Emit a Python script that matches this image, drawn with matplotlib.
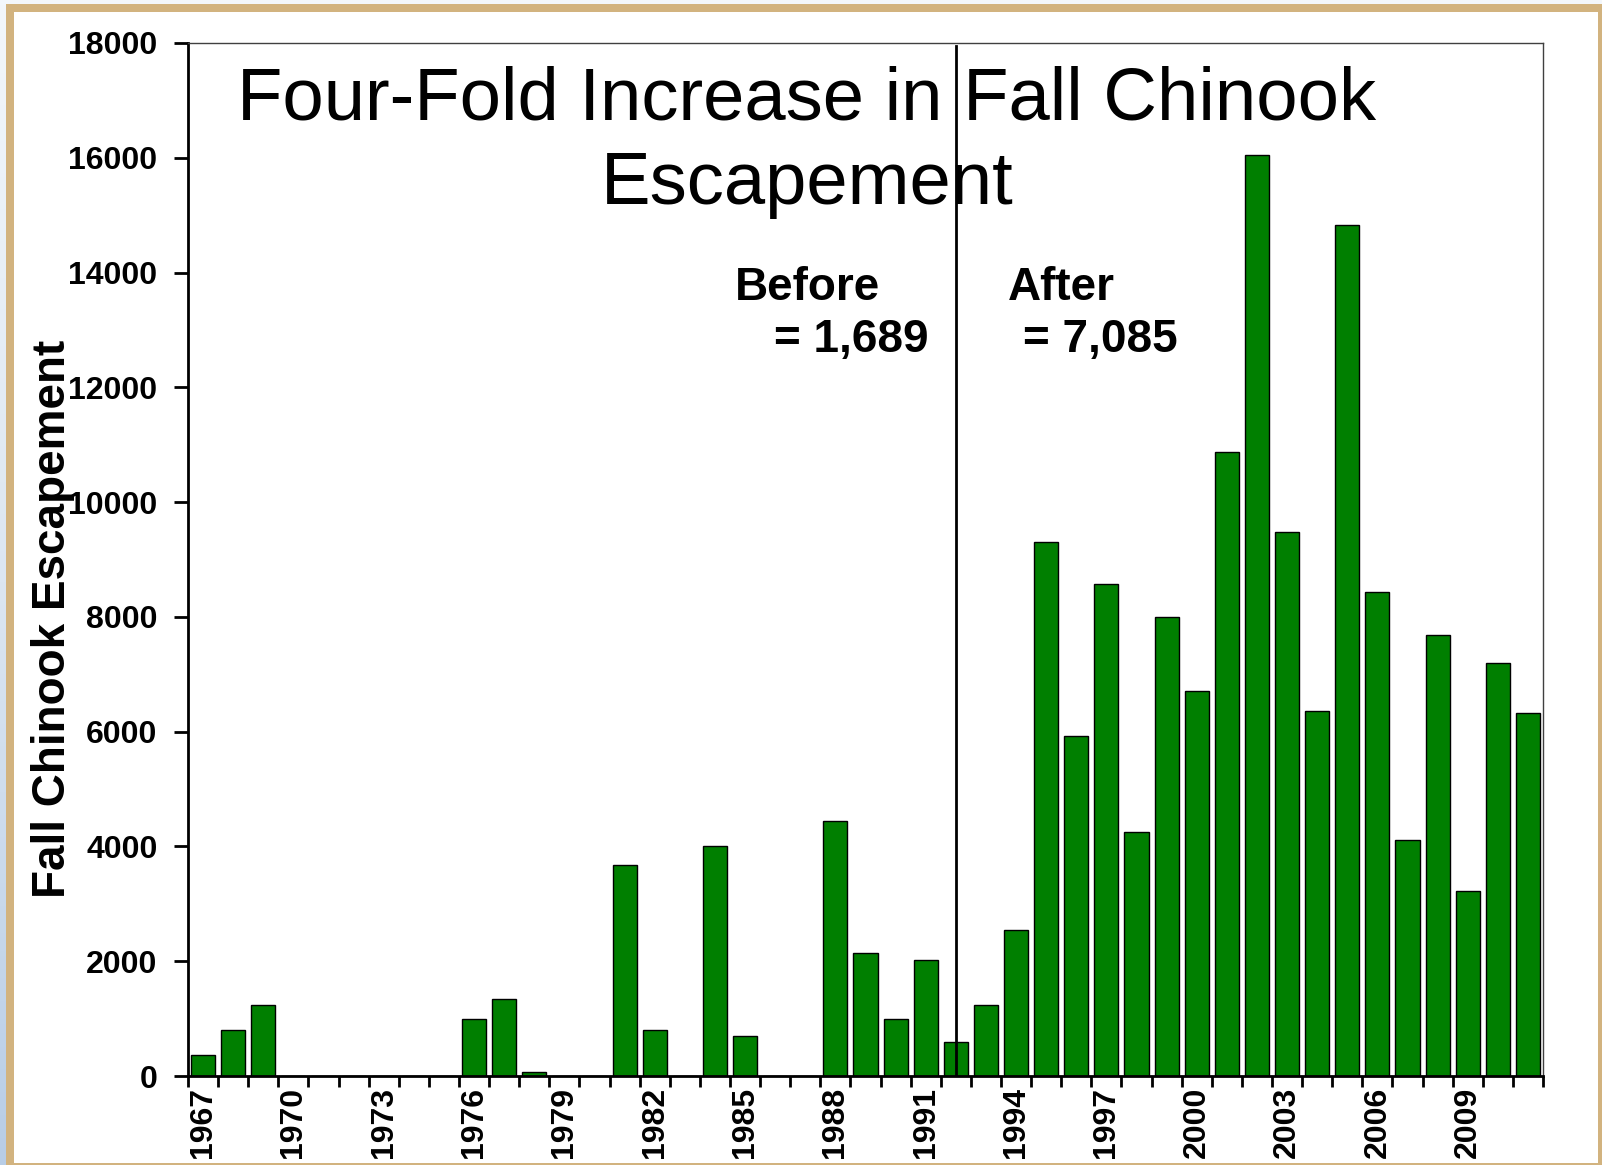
#Fall Chinook escapement bar chart, before/after 1992
import numpy as np
import matplotlib
matplotlib.use("Agg")
import matplotlib.pyplot as plt
from matplotlib.patches import Rectangle

plt.rcParams["font.family"] = ["Liberation Sans", "DejaVu Sans"]

# -----------------------------
# data
# -----------------------------
years = list(range(1967, 2012))
escapement = [370, 800, 1240, 0, 0, 0, 0, 0, 0, 1000, 1350, 70, 0, 0,
              3680, 800, 0, 4000, 700, 0, 0, 4450, 2150, 1000, 2020,
              600, 1240, 2550, 9300, 5920, 8570, 4260, 8000, 6700, 10870,
              16050, 9480, 6360, 14820, 8430, 4120, 7690, 3230, 7200, 6320]
label_years = list(range(1967, 2012, 3))
yticks = list(range(0, 18001, 2000))
split_year = 1992
before_text = ["Before", "= 1,689"]
after_text = ["After", "= 7,085"]
title_lines = ["Four-Fold Increase in Fall Chinook", "Escapement"]

W, H = 1602, 1165
fig = plt.figure(figsize=(W / 100, H / 100), dpi=100)
fig.patch.set_facecolor("#f3f7fb")


def fx(px):
    return px / W


def fy(py):
    return 1 - py / H


# slide frame: light blue strip, tan border, white page
grad = fig.add_axes([0, 0, fx(6), 1])
g = np.linspace(0, 1, 256).reshape(-1, 1)
grad.imshow(g, aspect="auto", cmap=matplotlib.colors.LinearSegmentedColormap.from_list(
    "bl", ["#f3f7fb", "#dce6f1", "#b8cde6"]), extent=[0, 1, 0, 1], origin="upper")
grad.axis("off")
fig.add_artist(Rectangle((fx(6), 0), fx(W - 6), fy(4), transform=fig.transFigure,
                         facecolor="#d2b37f", edgecolor="none", zorder=0))
fig.add_artist(Rectangle((fx(14), fy(1163)), fx(1598 - 14), fy(12) - fy(1163),
                         transform=fig.transFigure, facecolor="white",
                         edgecolor="none", zorder=0))

# -----------------------------
# bars
# -----------------------------
ax = fig.add_axes([fx(188), fy(1076), fx(1543 - 188), fy(43) - fy(1076)])
x = np.arange(len(years))
ax.bar(x, escapement, width=0.8, color="#007f00", edgecolor="black", linewidth=1.0,
       zorder=2)
ax.set_xlim(-0.5, len(years) - 0.5)
ax.set_ylim(0, 18000)

ax.set_yticks(yticks)
ax.set_yticklabels([str(v) for v in yticks], fontsize=23, fontweight="bold")
ax.tick_params(axis="y", direction="out", length=10, width=2, pad=12)

ax.set_xticks([years.index(y) for y in label_years])
ax.set_xticklabels([str(y) for y in label_years], rotation=90, fontsize=23,
                   fontweight="bold")
ax.tick_params(axis="x", which="major", length=0, pad=8)
ax.set_xticks(np.arange(-0.5, len(years)), minor=True)
ax.tick_params(axis="x", which="minor", direction="out", length=8, width=2)

for s in ["left", "bottom"]:
    ax.spines[s].set_linewidth(2)
    ax.spines[s].set_color("black")
for s in ["top", "right"]:
    ax.spines[s].set_linewidth(1)
    ax.spines[s].set_color("#404040")

# before / after line
xs = years.index(split_year)
ax.plot([xs, xs], [0, 17950], color="black", linewidth=2, zorder=3)

# -----------------------------
# text
# -----------------------------
fig.text(fx(807), fy(120), title_lines[0], fontsize=53.5, ha="center", va="baseline")
fig.text(fx(807), fy(204), title_lines[1], fontsize=53.5, ha="center", va="baseline")

fig.text(fx(735), fy(300), before_text[0], fontsize=33, fontweight="bold", va="baseline")
fig.text(fx(774), fy(352), before_text[1], fontsize=33, fontweight="bold", va="baseline")
fig.text(fx(1008), fy(300), after_text[0], fontsize=33, fontweight="bold", va="baseline")
fig.text(fx(1023), fy(352), after_text[1], fontsize=33, fontweight="bold", va="baseline")

fig.text(fx(53), fy(619), "Fall Chinook Escapement", fontsize=33, fontweight="bold",
         rotation=90, ha="center", va="center")

plt.savefig("out.png", dpi=100)
